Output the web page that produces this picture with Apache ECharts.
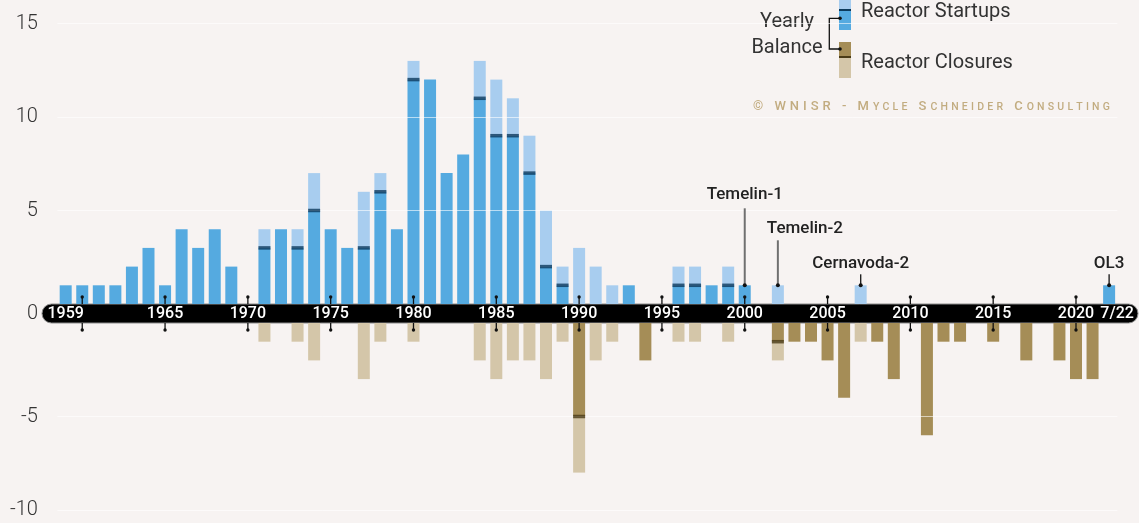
<!DOCTYPE html>
<html>
<head>
<meta charset="utf-8">
<script src="https://cdn.jsdelivr.net/npm/echarts@6/dist/echarts.min.js"></script>
<style>
  html, body { margin: 0; padding: 0; background: #f7f3f2; }
  #chart { width: 1139px; height: 523px; }
</style>
</head>
<body>
<div id="chart"></div>
<script>
// Reactor startups and closures per year, 1959 to July 2022
const years = [
  1959, 1960, 1961, 1962, 1963, 1964, 1965, 1966, 1967, 1968, 1969,
  1970, 1971, 1972, 1973, 1974, 1975, 1976, 1977, 1978, 1979,
  1980, 1981, 1982, 1983, 1984, 1985, 1986, 1987, 1988, 1989,
  1990, 1991, 1992, 1993, 1994, 1995, 1996, 1997, 1998, 1999,
  2000, 2001, 2002, 2003, 2004, 2005, 2006, 2007, 2008, 2009,
  2010, 2011, 2012, 2013, 2014, 2015, 2016, 2017, 2018, 2019,
  2020, 2021, 2022
];
const startups = [
  1, 1, 1, 1, 2, 3, 1, 4, 3, 4, 2,
  0, 4, 4, 4, 7, 4, 3, 6, 7, 4,
  13, 12, 7, 8, 13, 12, 11, 9, 5, 2,
  3, 2, 1, 1, 0, 0, 2, 2, 1, 2,
  1, 0, 1, 0, 0, 0, 0, 1, 0, 0,
  0, 0, 0, 0, 0, 0, 0, 0, 0, 0,
  0, 0, 1
];
const closures = [
  0, 0, 0, 0, 0, 0, 0, 0, 0, 0, 0,
  0, 1, 0, 1, 2, 0, 0, 3, 1, 0,
  1, 0, 0, 0, 2, 3, 2, 2, 3, 1,
  8, 2, 1, 0, 2, 0, 1, 1, 0, 1,
  0, 0, 2, 1, 1, 2, 4, 1, 1, 3,
  0, 6, 1, 1, 0, 1, 0, 2, 0, 2,
  3, 3, 0
];
const bandLabelYears = [1959, 1965, 1970, 1975, 1980, 1985, 1990, 1995, 2000, 2005, 2010, 2015, 2020, 2022];
const tickYears = [1960, 1965, 1970, 1975, 1980, 1985, 1990, 1995, 2000, 2005, 2010, 2015, 2020];
const upTicks = [5, 10, 15];
const downTicks = [-5, -10];
const noteYears = [2000, 2002, 2007, 2022];
const noteNames = ['Temelin-1', 'Temelin-2', 'Cernavoda-2', 'OL3'];

// leader lengths / text placement for the reactor callouts (pixels above the bar top)
const noteStyle = [
  { lead: 77, textUp: 91, dx: 0, align: 'center', stroke: '#707070', width: 2 },
  { lead: 45, textUp: 57, dx: -11, align: 'left', stroke: '#707070', width: 2 },
  { lead: 11, textUp: 22, dx: 0, align: 'center', stroke: '#222', width: 1.4 },
  { lead: 11, textUp: 22, dx: 0, align: 'center', stroke: '#222', width: 1.4 }
];

const C_BLUE = '#55aae0', C_BLUE_LT = '#a8cdef', C_NAVY = '#0c3a5c';
const C_TAN = '#a58d57', C_TAN_LT = '#d4c6a9', C_BROWN = '#4a3b17';
const C_CREDIT = '#c2ac80';
const FONT = 'Roboto, "Noto Sans", sans-serif';

// split each year into balance part and remainder
const balanceUp = startups.map((s, i) => Math.max(s - closures[i], 0));
const restUp = startups.map((s, i) => s - balanceUp[i]);
const balanceDown = closures.map((c, i) => -Math.max(c - startups[i], 0));
const restDown = closures.map((c, i) => -(c + balanceDown[i]));
const sepUp = startups.map((s, i) => (s > closures[i] && closures[i] > 0) ? s - closures[i] : '-');
const sepDown = closures.map((c, i) => (c > startups[i] && startups[i] > 0) ? -(c - startups[i]) : '-');
const z2dash = a => a.map(v => v === 0 ? '-' : v);

const chart = echarts.init(document.getElementById('chart'), null, { renderer: 'canvas' });

// small-caps credit line with widened letter spacing
function spaced(s) { return s.split('').join('\u2009\u200A'); }
const credit = [
  ['b', '© WNISR - M'], ['s', 'YCLE'], ['b', ' S'], ['s', 'CHNEIDER'], ['b', ' C'], ['s', 'ONSULTING']
].map(([k, t]) => '{' + k + '|' + spaced(t) + '}').join('{b|\u2009\u200A}');

const tickSeries = (gridIdx, dir) => ({
  type: 'custom',
  xAxisIndex: gridIdx, yAxisIndex: gridIdx,
  z: 8, silent: true,
  data: tickYears.map(y => [years.indexOf(y), 0]),
  renderItem(params, api) {
    const p = api.coord([api.value(0), 0]);
    const end = p[1] + dir * 7;
    return {
      type: 'group',
      children: [
        { type: 'line', shape: { x1: p[0], y1: p[1], x2: p[0], y2: end }, style: { stroke: '#111', lineWidth: 1.3 } },
        { type: 'circle', shape: { cx: p[0], cy: end, r: 1.7 }, style: { fill: '#111' } }
      ]
    };
  }
});

const txt = (x, y, text, align, size, weight) => ({
  type: 'text', x, y,
  style: { text, align, verticalAlign: 'middle', textAlign: align, textVerticalAlign: 'middle',
    font: (weight || 'normal') + ' ' + size + 'px ' + FONT, fill: '#333' }
});

const option = {
  backgroundColor: '#f7f3f2',
  animation: false,
  grid: [
    { left: 57.4, right: 21.6, top: 23.5, height: 280.5 },
    { left: 57.4, right: 21.6, top: 323, height: 187 }
  ],
  xAxis: [
    {
      type: 'category', gridIndex: 0, data: years,
      axisLine: { show: false }, axisTick: { show: false }, splitLine: { show: false },
      axisLabel: {
        interval: (i, v) => bandLabelYears.includes(+v),
        formatter: v => (+v === 2022 ? '{r|7/22}' : v),
        color: '#fff', fontSize: 16, fontWeight: 500, fontFamily: FONT,
        margin: 10, verticalAlign: 'middle',
        rich: { r: { color: '#fff', fontSize: 16, fontWeight: 500, fontFamily: FONT, padding: [0, 0, 0, 16] } }
      }
    },
    {
      type: 'category', gridIndex: 1, data: years,
      axisLine: { show: false }, axisTick: { show: false }, axisLabel: { show: false }, splitLine: { show: false }
    }
  ],
  yAxis: [
    {
      type: 'value', gridIndex: 0, min: 0, max: 15, interval: 5,
      axisLine: { show: false }, axisTick: { show: false }, splitLine: { show: false },
      axisLabel: { formatter: v => (v === 0 ? '' : v), color: '#333', fontSize: 20, fontWeight: 300, fontFamily: FONT, margin: 19.5 }
    },
    {
      type: 'value', gridIndex: 1, min: -10, max: 0, interval: 5,
      axisLine: { show: false }, axisTick: { show: false }, splitLine: { show: false },
      axisLabel: { formatter: v => (v === 0 ? '' : v), color: '#333', fontSize: 20, fontWeight: 300, fontFamily: FONT, margin: 19.5 }
    }
  ],
  series: [
    { name: 'Yearly balance (startups)', type: 'bar', xAxisIndex: 0, yAxisIndex: 0, stack: 'up', barWidth: 12,
      data: z2dash(balanceUp), itemStyle: { color: C_BLUE } },
    { name: 'Reactor Startups', type: 'bar', xAxisIndex: 0, yAxisIndex: 0, stack: 'up', barWidth: 12,
      data: z2dash(restUp), itemStyle: { color: C_BLUE_LT } },
    { name: 'Yearly balance (closures)', type: 'bar', xAxisIndex: 1, yAxisIndex: 1, stack: 'down', barWidth: 12,
      data: z2dash(balanceDown), itemStyle: { color: C_TAN } },
    { name: 'Reactor Closures', type: 'bar', xAxisIndex: 1, yAxisIndex: 1, stack: 'down', barWidth: 12,
      data: z2dash(restDown), itemStyle: { color: C_TAN_LT } },
    { type: 'scatter', xAxisIndex: 0, yAxisIndex: 0, z: 5, silent: true,
      symbol: 'rect', symbolSize: [12, 3.5], data: sepUp, itemStyle: { color: C_NAVY },
      markLine: { silent: true, symbol: ['none', 'none'], label: { show: false },
        lineStyle: { color: 'rgba(255,255,255,0.6)', width: 1, type: 'solid' },
        data: upTicks.map(v => ({ yAxis: v })) } },
    { type: 'scatter', xAxisIndex: 1, yAxisIndex: 1, z: 5, silent: true,
      symbol: 'rect', symbolSize: [12, 3.5], data: sepDown, itemStyle: { color: C_BROWN },
      markLine: { silent: true, symbol: ['none', 'none'], label: { show: false },
        lineStyle: { color: 'rgba(255,255,255,0.6)', width: 1, type: 'solid' },
        data: downTicks.map(v => ({ yAxis: v })) } },
    tickSeries(0, -1),
    tickSeries(1, 1),
    {
      type: 'custom', xAxisIndex: 0, yAxisIndex: 0, z: 9, silent: true,
      data: noteYears.map(y => [years.indexOf(y), startups[years.indexOf(y)]]),
      renderItem(params, api) {
        const st = noteStyle[params.dataIndex];
        const p = api.coord([api.value(0), api.value(1)]);
        return {
          type: 'group',
          children: [
            { type: 'line', shape: { x1: p[0], y1: p[1] - st.lead, x2: p[0], y2: p[1] },
              style: { stroke: st.stroke, lineWidth: st.width } },
            { type: 'circle', shape: { cx: p[0], cy: p[1], r: 2 }, style: { fill: '#111' } },
            { type: 'text', x: p[0] + st.dx, y: p[1] - st.textUp,
              style: { text: noteNames[params.dataIndex], align: st.align, verticalAlign: 'middle',
                textAlign: st.align, textVerticalAlign: 'middle',
                font: '500 17px ' + FONT, fill: '#222' } }
          ]
        };
      }
    }
  ],
  graphic: [
    // zero band
    { type: 'rect', z: -1, shape: { x: 42, y: 304, width: 1096, height: 19, r: 9.5 },
      style: { fill: '#000', stroke: '#8c8c8c', lineWidth: 1 } },
    txt(38, 314, '0', 'right', 20, '300'),
    // legend swatches
    { type: 'rect', shape: { x: 839, y: 0, width: 12, height: 10 }, style: { fill: C_BLUE_LT } },
    { type: 'rect', shape: { x: 839, y: 10, width: 12, height: 20 }, style: { fill: C_BLUE } },
    { type: 'rect', shape: { x: 839, y: 9, width: 12, height: 2 }, style: { fill: C_NAVY } },
    { type: 'rect', shape: { x: 839, y: 42, width: 12, height: 15 }, style: { fill: C_TAN } },
    { type: 'rect', shape: { x: 839, y: 57, width: 12, height: 21 }, style: { fill: C_TAN_LT } },
    { type: 'rect', shape: { x: 839, y: 56, width: 12, height: 2 }, style: { fill: C_BROWN } },
    { type: 'polyline', shape: { points: [[840, 18.3], [829.3, 18.3], [829.3, 49], [840, 49]] },
      style: { stroke: '#111', lineWidth: 1.3, fill: null } },
    { type: 'circle', shape: { cx: 840, cy: 18.3, r: 1.8 }, style: { fill: '#111' } },
    { type: 'circle', shape: { cx: 840, cy: 49, r: 1.8 }, style: { fill: '#111' } },
    txt(861, 12, 'Reactor Startups', 'left', 20),
    txt(861, 63, 'Reactor Closures', 'left', 20),
    txt(787, 22, 'Yearly', 'center', 20),
    txt(787, 48, 'Balance', 'center', 20),
    { type: 'text', x: 753, y: 107, style: { text: credit, align: 'left', verticalAlign: 'middle',
      textAlign: 'left', textVerticalAlign: 'middle', fill: C_CREDIT,
      rich: {
        b: { fontSize: 13, fontFamily: FONT, fill: C_CREDIT, color: C_CREDIT, fontWeight: 500 },
        s: { fontSize: 10.5, fontFamily: FONT, fill: C_CREDIT, color: C_CREDIT, fontWeight: 500 }
      } } }
  ]
};

chart.setOption(option);
</script>
</body>
</html>
